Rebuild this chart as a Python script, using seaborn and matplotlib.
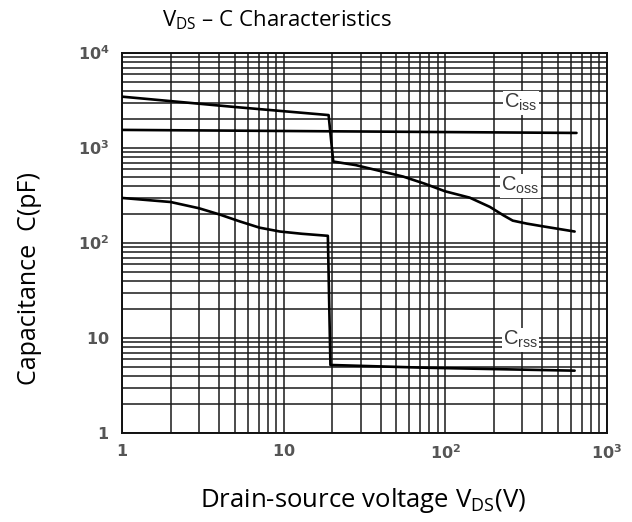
import numpy as np
import pandas as pd
import matplotlib
matplotlib.use("Agg")
import matplotlib.pyplot as plt
import seaborn as sns

# Capacitance curves vs drain-source voltage (log-log)
ciss_v = [1, 650]
ciss_c = [1550, 1440]

coss_v = [1, 5, 19, 20.3, 28, 40, 55, 75, 100, 142, 189, 230, 262, 320, 400, 633]
coss_c = [3470, 2700, 2220, 720, 660, 570, 500, 420, 350, 300, 240, 195, 172, 160, 150, 132]

crss_v = [1, 2, 3, 4, 5.4, 7.1, 9.5, 13, 18.8, 19.5, 77, 633]
crss_c = [298, 270, 232, 200, 168, 145, 132, 125, 119, 5.2, 4.86, 4.53]

curve_labels = [r"$\mathsf{C_{iss}}$", r"$\mathsf{C_{oss}}$", r"$\mathsf{C_{rss}}$"]
label_v = [293, 293, 293]
label_c = [3000, 400, 9.6]

x_ticks = [1, 10, 100, 1000]
x_ticklabels = [r"$\mathbf{1}$", r"$\mathbf{10}$", r"$\mathbf{10^{2}}$", r"$\mathbf{10^{3}}$"]
y_ticks = [1, 10, 100, 1000, 10000]
y_ticklabels = [r"$\mathbf{1}$", r"$\mathbf{10}$", r"$\mathbf{10^{2}}$",
                r"$\mathbf{10^{3}}$", r"$\mathbf{10^{4}}$"]

title = r"V$_{\rm DS}$ – C Characteristics"
xlabel = r"Drain-source voltage V$_{\rm DS}$(V)"
ylabel = "Capacitance  C(pF)"

sns.set_style("white")
plt.rcParams["font.family"] = ["Open Sans", "DejaVu Sans"]
plt.rcParams["mathtext.fontset"] = "custom"
plt.rcParams["mathtext.rm"] = "Open Sans"
plt.rcParams["mathtext.sf"] = "Liberation Sans"
plt.rcParams["mathtext.bf"] = "DejaVu Sans:bold"

fig = plt.figure(figsize=(6.32, 5.22), dpi=100)
ax = fig.add_axes([0.193, 0.1705, 0.767, 0.728])

for v, c in [(ciss_v, ciss_c), (coss_v, coss_c), (crss_v, crss_c)]:
    df = pd.DataFrame({"V": v, "C": c})
    sns.lineplot(data=df, x="V", y="C", ax=ax, color="black", lw=1.9,
                 sort=False, estimator=None, zorder=3)

ax.set_xscale("log")
ax.set_yscale("log")
ax.set_xlim(1, 1000)
ax.set_ylim(1, 10000)

ax.set_xticks(x_ticks)
ax.set_xticklabels(x_ticklabels)
ax.set_yticks(y_ticks)
ax.set_yticklabels(y_ticklabels)
ax.xaxis.set_minor_locator(matplotlib.ticker.LogLocator(base=10, subs=np.arange(2, 10)))
ax.yaxis.set_minor_locator(matplotlib.ticker.LogLocator(base=10, subs=np.arange(2, 10)))
ax.xaxis.set_minor_formatter(matplotlib.ticker.NullFormatter())
ax.yaxis.set_minor_formatter(matplotlib.ticker.NullFormatter())
ax.tick_params(which="both", length=0, labelsize=11.5, labelcolor="#555555")
ax.tick_params(axis="x", pad=8)
ax.tick_params(axis="y", pad=9)

ax.grid(True, which="both", color="#1a1a1a", lw=1.1, zorder=1)
ax.set_axisbelow(True)
for s in ax.spines.values():
    s.set_color("#111111")
    s.set_linewidth(1.4)

for lab, v, c in zip(curve_labels, label_v, label_c):
    ax.text(v, c, lab, ha="center", va="center", fontsize=14.5, color="#3a3a3a",
            zorder=4, bbox=dict(facecolor="white", edgecolor="none", pad=0.8))

ax.set_xlabel("")
ax.set_ylabel("")
fig.text(0.438, 0.961, title, ha="center", va="center", fontsize=16, color="black")
fig.text(0.574, 0.042, xlabel, ha="center", va="center", fontsize=18.5, color="black")
fig.text(0.047, 0.466, ylabel, ha="center", va="center", rotation=90,
         fontsize=18, color="black")

fig.savefig("out.png", dpi=100)
